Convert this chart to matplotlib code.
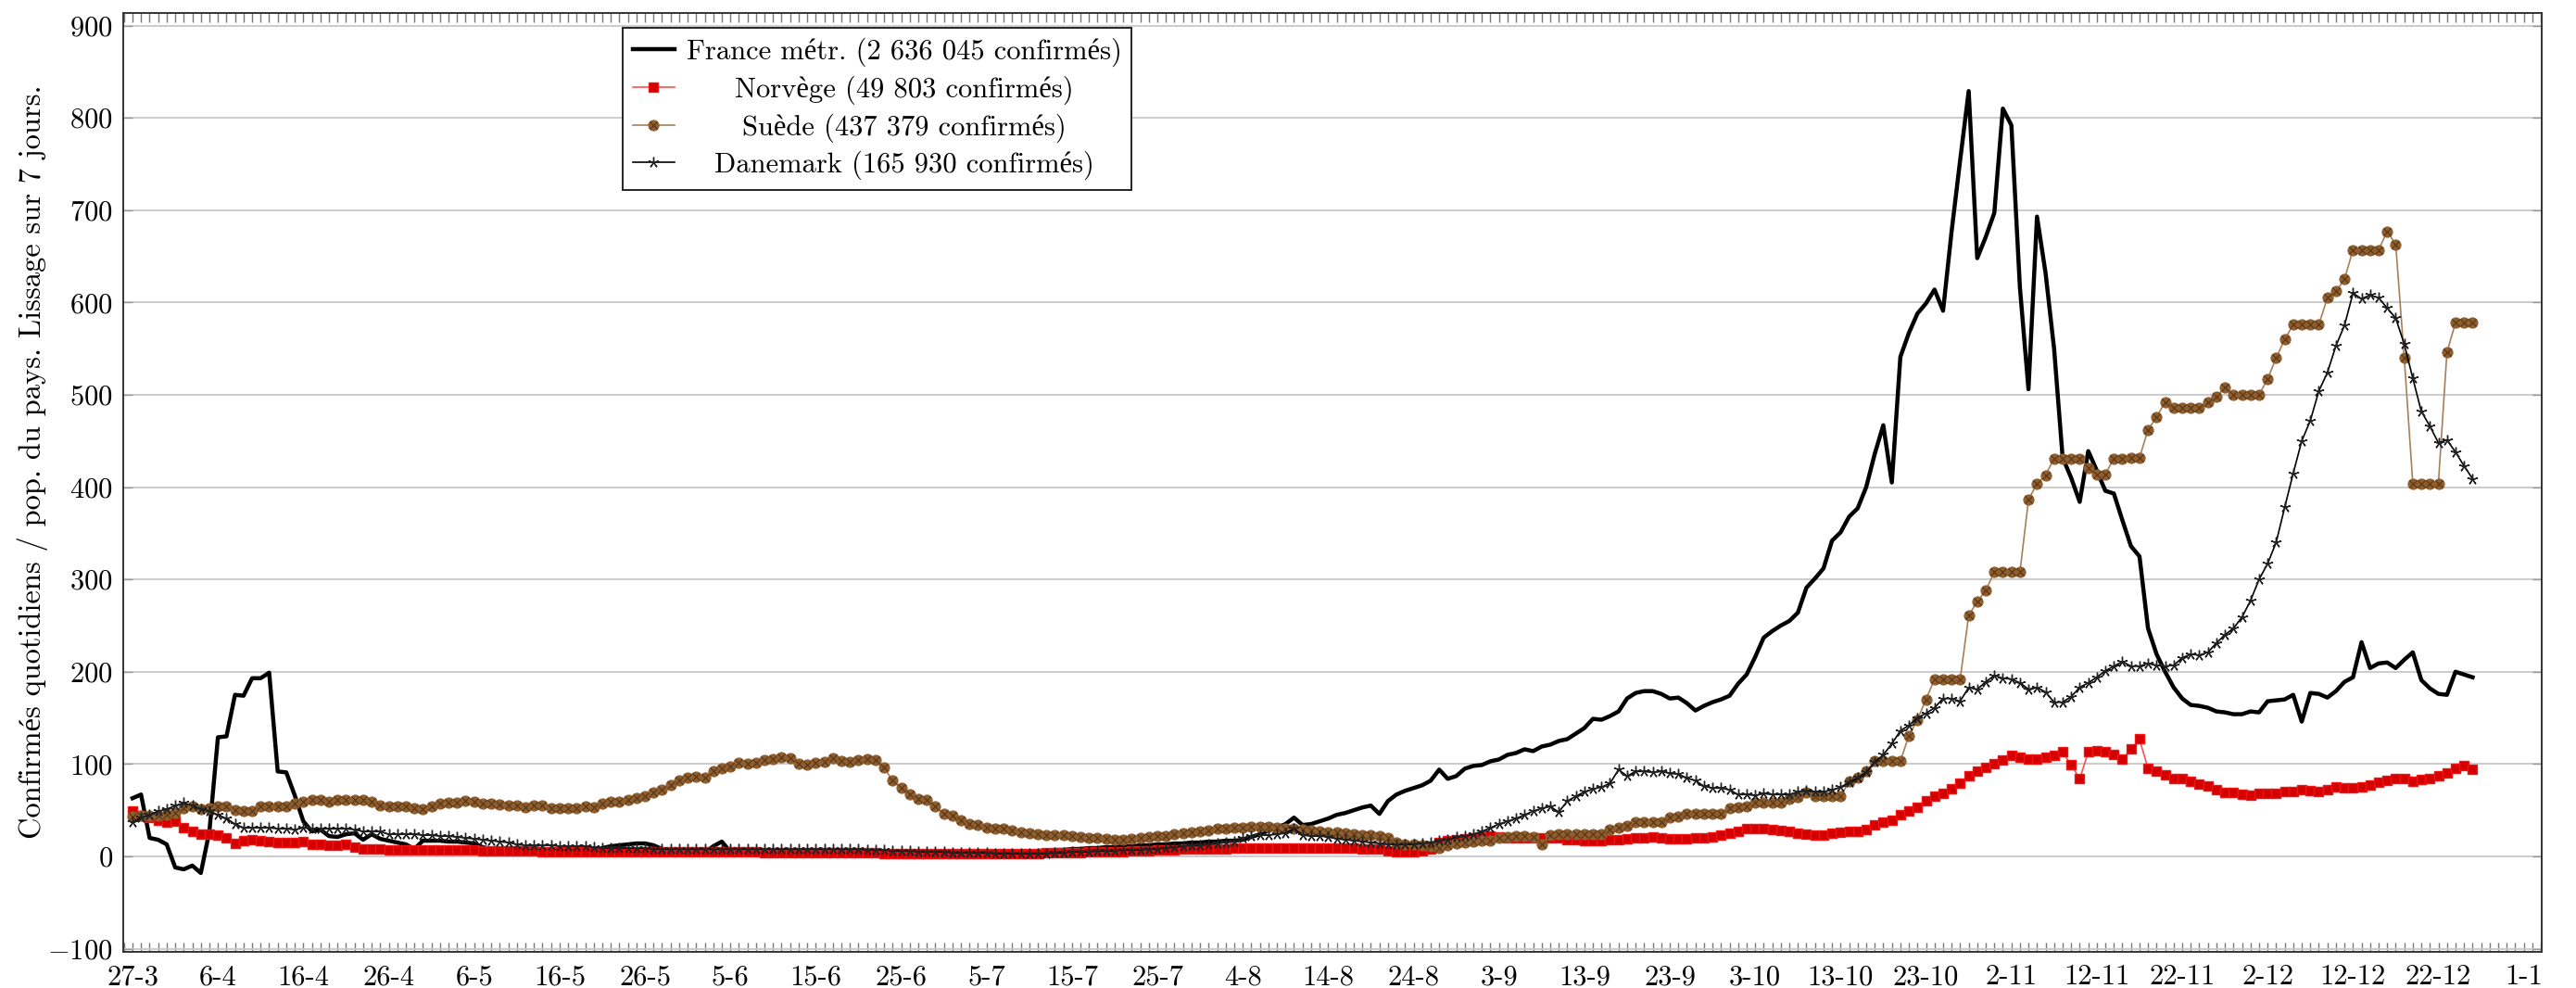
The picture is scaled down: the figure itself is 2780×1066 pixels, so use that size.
import matplotlib
matplotlib.use('Agg')
import matplotlib.pyplot as plt
import numpy as np

# Confirmés quotidiens / pop. du pays, lissage 7 jours, un point par jour depuis le 27-3
france = [
    63, 67, 20, 18, 13, -12, -14, -10, -18, 27,
    129, 130, 175, 174, 193, 193, 199, 92, 91, 66,
    38, 27, 29, 22, 21, 24, 25, 18, 24, 19,
    17, 15, 13, 8, 17, 17, 17, 16, 16, 15,
    14, 10, 8, 7, 6, 6, 6, 5, 5, 5,
    5, 5, 5, 5, 6, 9, 11, 12, 13, 14,
    14, 12, 8, 4, 4, 4, 4, 4, 11, 16,
    5, 4, 4, 3, 3, 3, 3, 3, 3, 3,
    3, 3, 3, 3, 3, 3, 3, 3, 3, 3,
    3, 3, 3, 3, 3, 3, 3, 3, 3, 3,
    3, 3, 4, 4, 5, 5, 6, 6, 7, 7,
    8, 8, 9, 9, 10, 10, 11, 11, 12, 12,
    13, 13, 14, 14, 15, 15, 16, 16, 17, 17,
    18, 21, 24, 28, 31, 35, 42, 34, 35, 38,
    41, 45, 47, 50, 53, 55, 46, 60, 67, 71,
    74, 77, 82, 94, 84, 87, 95, 98, 99, 103,
    105, 110, 112, 116, 114, 119, 121, 125, 127, 133,
    139, 149, 148, 152, 157, 171, 177, 179, 179, 176,
    171, 172, 166, 158, 163, 167, 170, 174, 187, 197,
    216, 237, 244, 250, 255, 264, 291, 301, 312, 342,
    351, 368, 377, 400, 436, 467, 405, 541, 567, 588,
    599, 614, 591, 677, 754, 829, 648, 671, 697, 810,
    792, 616, 506, 693, 632, 550, 432, 410, 384, 439,
    418, 396, 393, 364, 336, 325, 247, 219, 200, 183,
    171, 164, 163, 161, 157, 156, 154, 154, 157, 156,
    168, 169, 170, 175, 146, 177, 176, 172, 179, 189,
    194, 232, 204, 209, 210, 204, 213, 221, 191, 182,
    176, 175, 200, 197, 194,
]

norvege = [
    49, 44, 42, 39, 37, 38, 31, 27, 24, 24,
    23, 20, 14, 17, 18, 17, 16, 15, 15, 15,
    16, 13, 13, 12, 12, 13, 10, 8, 8, 8,
    7, 7, 7, 7, 7, 7, 7, 7, 7, 7,
    7, 6, 6, 6, 6, 6, 6, 6, 5, 5,
    5, 5, 5, 5, 5, 5, 5, 5, 5, 5,
    5, 5, 5, 5, 5, 5, 5, 5, 5, 5,
    5, 5, 5, 5, 4, 4, 4, 4, 4, 4,
    4, 4, 4, 4, 4, 4, 4, 4, 3, 3,
    3, 3, 3, 3, 3, 3, 3, 3, 3, 3,
    3, 3, 3, 3, 3, 3, 3, 4, 4, 4,
    4, 4, 5, 5, 5, 5, 5, 6, 6, 6,
    7, 7, 7, 8, 8, 8, 8, 8, 8, 9,
    9, 9, 9, 9, 9, 9, 9, 9, 9, 9,
    9, 9, 9, 9, 8, 8, 8, 6, 5, 5,
    5, 6, 8, 15, 17, 18, 19, 20, 21, 22,
    21, 20, 20, 20, 20, 20, 20, 20, 18, 18,
    17, 17, 17, 18, 18, 19, 20, 20, 21, 20,
    19, 19, 19, 20, 20, 21, 23, 25, 27, 30,
    30, 30, 29, 28, 27, 25, 24, 23, 23, 25,
    26, 27, 27, 29, 34, 37, 39, 45, 49, 53,
    60, 65, 68, 73, 79, 87, 92, 96, 100, 104,
    109, 107, 105, 105, 107, 109, 113, 99, 84, 113,
    114, 113, 110, 105, 116, 127, 95, 92, 88, 84,
    84, 81, 78, 76, 72, 69, 69, 67, 66, 68,
    68, 68, 70, 70, 72, 71, 70, 72, 75, 74,
    74, 75, 77, 80, 82, 84, 84, 81, 83, 84,
    87, 90, 95, 98, 94,
]

suede = [
    43, 44, 44, 44, 45, 47, 52, 54, 51, 52,
    54, 54, 50, 49, 49, 54, 54, 54, 54, 57,
    59, 61, 61, 59, 61, 61, 61, 61, 59, 55,
    54, 54, 54, 52, 51, 54, 57, 58, 58, 60,
    59, 57, 57, 56, 55, 55, 53, 55, 55, 52,
    52, 52, 52, 54, 53, 57, 59, 59, 61, 63,
    65, 69, 72, 77, 82, 85, 86, 85, 92, 95,
    97, 101, 100, 101, 104, 105, 107, 106, 100, 99,
    101, 102, 106, 103, 102, 104, 105, 104, 96, 82,
    74, 67, 62, 61, 54, 46, 44, 39, 35, 34,
    31, 30, 30, 28, 26, 25, 24, 23, 23, 23,
    22, 21, 20, 20, 19, 18, 18, 19, 20, 21,
    22, 22, 24, 25, 26, 27, 28, 30, 30, 31,
    31, 32, 32, 32, 31, 30, 30, 29, 28, 27,
    26, 26, 25, 24, 23, 23, 22, 20, 15, 13,
    13, 12, 11, 9, 12, 14, 15, 16, 17, 17,
    20, 21, 22, 22, 21, 13, 23, 24, 24, 24,
    24, 24, 24, 29, 31, 33, 37, 37, 37, 37,
    42, 43, 46, 46, 46, 46, 46, 52, 53, 54,
    58, 58, 58, 58, 62, 64, 69, 65, 65, 65,
    65, 81, 85, 92, 103, 103, 103, 103, 131, 148,
    170, 192, 192, 192, 192, 261, 276, 288, 308, 308,
    308, 308, 386, 404, 413, 431, 431, 431, 431, 421,
    414, 414, 431, 431, 432, 432, 462, 476, 492, 486,
    486, 486, 486, 492, 498, 508, 500, 500, 500, 500,
    517, 540, 560, 576, 576, 576, 576, 605, 612, 625,
    657, 657, 657, 657, 677, 663, 540, 404, 404, 404,
    404, 546, 578, 578, 578,
]

danemark = [
    37, 42, 45, 49, 51, 55, 58, 55, 51, 49,
    45, 41, 35, 31, 31, 31, 31, 30, 30, 29,
    31, 30, 30, 30, 30, 30, 29, 27, 27, 27,
    24, 24, 24, 24, 23, 23, 22, 22, 21, 20,
    19, 18, 17, 16, 15, 13, 12, 12, 12, 12,
    11, 11, 11, 11, 10, 9, 9, 9, 9, 9,
    9, 8, 8, 8, 8, 8, 8, 8, 8, 8,
    8, 8, 8, 8, 8, 8, 8, 8, 8, 8,
    8, 8, 8, 8, 8, 8, 7, 7, 7, 6,
    6, 6, 5, 5, 5, 5, 4, 4, 4, 4,
    4, 3, 3, 3, 3, 3, 3, 3, 4, 4,
    5, 5, 5, 6, 6, 6, 7, 7, 7, 8,
    8, 9, 10, 11, 12, 12, 13, 14, 15, 16,
    20, 22, 23, 23, 24, 25, 30, 23, 22, 22,
    21, 19, 18, 17, 16, 15, 14, 13, 13, 13,
    13, 14, 15, 17, 18, 21, 22, 24, 27, 31,
    35, 38, 41, 45, 49, 52, 54, 48, 60, 65,
    70, 73, 75, 79, 94, 87, 92, 92, 91, 92,
    90, 89, 85, 82, 76, 74, 74, 72, 67, 67,
    66, 68, 67, 67, 67, 70, 71, 70, 70, 72,
    75, 80, 85, 91, 102, 110, 122, 136, 142, 150,
    155, 161, 171, 171, 168, 183, 181, 189, 196, 193,
    192, 188, 181, 183, 178, 167, 167, 173, 183, 188,
    194, 201, 206, 211, 206, 206, 209, 207, 206, 207,
    215, 219, 218, 221, 231, 240, 247, 259, 277, 300,
    317, 340, 378, 415, 450, 472, 504, 524, 553, 575,
    610, 604, 608, 605, 594, 583, 555, 518, 482, 466,
    448, 451, 438, 423, 409,
]

tick_labels = ['27-3', '6-4', '16-4', '26-4', '6-5', '16-5', '26-5', '5-6', '15-6',
               '25-6', '5-7', '15-7', '25-7', '4-8', '14-8', '24-8', '3-9', '13-9',
               '23-9', '3-10', '13-10', '23-10', '2-11', '12-11', '22-11', '2-12',
               '12-12', '22-12', '1-1']

labels = ['France métr. (2 636 045 confirmés)',
          'Norvège (49 803 confirmés)',
          'Suède (437 379 confirmés)',
          'Danemark (165 930 confirmés)']

plt.rcParams['font.family'] = ['cmr10', 'Liberation Serif']
plt.rcParams['mathtext.fontset'] = 'cm'
plt.rcParams['axes.formatter.use_mathtext'] = True
plt.rcParams['font.size'] = 11

jours = np.arange(len(france))

fig = plt.figure(figsize=(13.9, 5.33), dpi=200)
ax = fig.add_axes([0.0478, 0.0366, 0.9389, 0.9503])

h_fr, = ax.plot(jours, france, color='black', lw=1.6, zorder=3)
h_no, = ax.plot(jours, norvege, color='#ff5050', lw=0.6, marker='s', ms=3.8,
                mfc='#d40000', mec='#f01515', mew=0.5, zorder=4)
h_se, = ax.plot(jours, suede, color='#a87f58', lw=0.6, marker='o', ms=4.0,
                mfc='#8f5e2f', mec='#8f5e2f', mew=0.4, zorder=5)
h_sx, = ax.plot(jours, suede, ls='none', marker='x', ms=2.6, mec='#5c3817',
                mew=0.45, zorder=5)
h_dk, = ax.plot(jours, danemark, color='black', lw=0.6, marker=(5, 2, 0), ms=4.2,
                mec='#222222', mew=0.5, zorder=6)

ax.set_xlim(-1.1, 282.1)
ax.set_ylim(-103.4, 913.6)
ax.set_xticks(np.arange(0, 281, 10), tick_labels)
ax.set_xticks(np.arange(-1, 283), minor=True)
ax.set_yticks(np.arange(-100, 901, 100))

ax.tick_params(axis='x', which='both', direction='in', top=True, bottom=True,
               length=3.6, width=0.5, color='#777777', pad=5)
ax.tick_params(axis='y', direction='in', left=True, right=True, length=3.6,
               width=0.5, color='#999999', pad=4)
ax.yaxis.grid(True, color='#cccccc', lw=0.7)
ax.set_axisbelow(True)
for s in ax.spines.values():
    s.set_linewidth(0.7)
    s.set_color('#333333')

ax.set_ylabel('Confirmés quotidiens / pop. du pays. Lissage sur 7 jours.', fontsize=11.7)
ax.yaxis.set_label_coords(-0.031, 0.522)

leg = ax.legend([h_fr, h_no, (h_se, h_sx), h_dk], labels, loc='upper left',
                bbox_to_anchor=(0.2065, 0.984), borderaxespad=0, fancybox=False,
                edgecolor='#222222', framealpha=1, handlelength=1.5,
                handletextpad=0.4, labelspacing=0.3, borderpad=0.35)
leg.get_frame().set_linewidth(0.7)
leg.set_zorder(10)

# centrer les textes de la légende comme dans pgfplots
fig.canvas.draw()
texts = leg.get_texts()
widths = [t.get_window_extent().width for t in texts]
wmax = max(widths)
for t, w in zip(texts, widths):
    t.set_x((wmax - w) / 2)

fig.savefig('out.png', dpi=200)
plt.close(fig)
